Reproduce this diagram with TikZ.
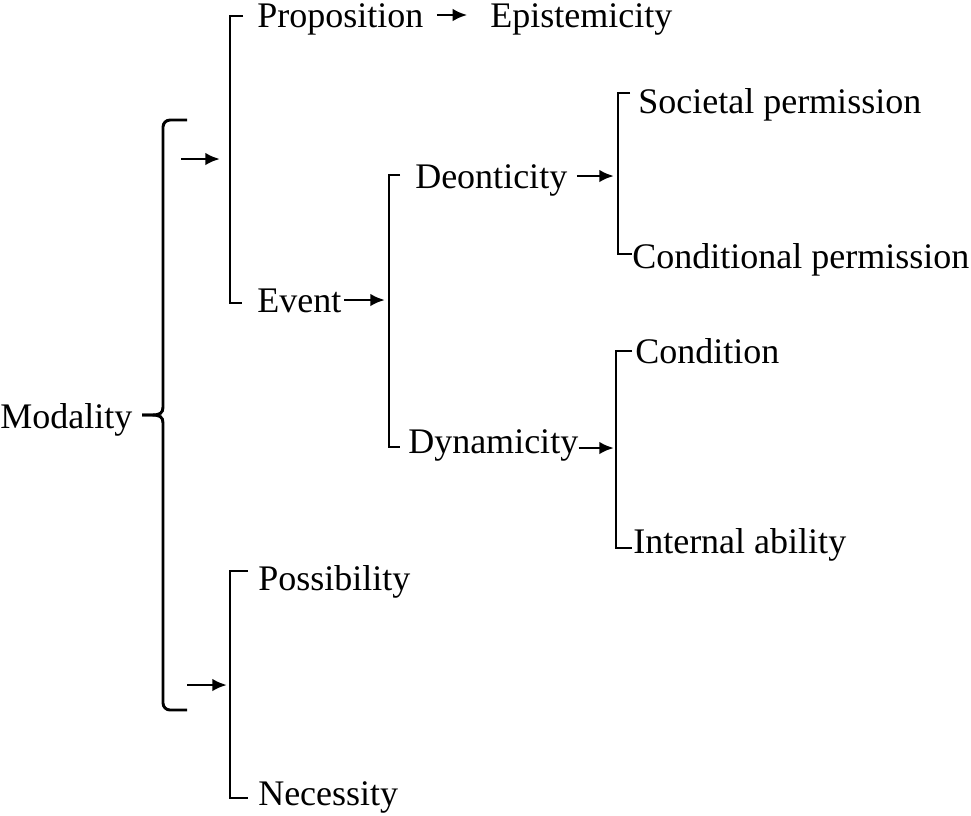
\documentclass[tikz,border=0pt]{standalone}
\usepackage{fontspec}
\setmainfont{Liberation Serif}
\usetikzlibrary{arrows.meta}
\begin{document}
\begin{tikzpicture}[x=0.75pt,y=-0.75pt,
  lbl/.style={anchor=west,inner sep=0pt,text height=18pt,text depth=0pt,font=\fontsize{27}{32}\selectfont},
  ln/.style={line width=2.2pt,line join=miter,line cap=butt},
  arr/.style={line width=2.2pt,-{Latex[length=11pt,width=9.5pt]}}]
\useasboundingbox (0,0) rectangle (971,815);
% text nodes
\node[lbl] (mod) at (0,416) {Modality};
\node[lbl] (prop) at (257,15) {Proposition};
\node[lbl] (epi) at (490,15) {Epistemicity};
\node[lbl] (ev) at (257,300) {Event};
\node[lbl] (deo) at (415,176) {Deonticity};
\node[lbl] (dyn) at (408,441) {Dynamicity};
\node[lbl] (soc) at (638,101) {Societal permission};
\node[lbl] (cper) at (632,256) {Conditional permission};
\node[lbl] (cond) at (635,351) {Condition};
\node[lbl] (inab) at (633,541) {Internal ability};
\node[lbl] (poss) at (258,578) {Possibility};
\node[lbl] (nec) at (258,793) {Necessity};
% main brace
\coordinate (bt) at (187,120);
\coordinate (bb) at (187,710);
\coordinate (btip) at (142,415);
\draw[ln] (bt) -- (170,120) to[out=180,in=90] (163,127) -- (163,407)
  .. controls (163,413) and (160,415) .. (152,415) -- (btip);
\draw[ln] (btip) -- (152,415) .. controls (160,415) and (163,417) .. (163,423)
  -- (163,703) to[out=-90,in=180] (170,710) -- (bb);
% brackets
\draw[ln] (243,16) -- (230,16) -- (230,303) -- (242,303);
\draw[ln] (400,175) -- (389,175) -- (389,447) -- (400,447);
\draw[ln] (630,93) -- (618,93) -- (618,254) -- (632,254);
\draw[ln] (632,351) -- (616,351) -- (616,548) -- (632,548);
\draw[ln] (248,571) -- (230,571) -- (230,798) -- (248,798);
% connector coordinates
\coordinate (a1s) at (181,159);
\coordinate (a1e) at (220,159);
\coordinate (a2s) at (187,685);
\coordinate (a2e) at (227,685);
\coordinate (b3m) at (385,300);
\coordinate (b4m) at (614,176);
\coordinate (b5m) at (614,448);
% arrows
\draw[arr] (a1s) -- (a1e);
\draw[arr] (a2s) -- (a2e);
\draw[arr,shorten <=10pt,shorten >=17pt] (prop.east) -- (epi.west);
\draw[arr,shorten <=2pt] (ev.east) -- (b3m);
\draw[arr,shorten <=7pt] (deo.east) -- (b4m);
\draw[arr] (dyn.east |- b5m) -- (b5m);
\end{tikzpicture}
\end{document}
